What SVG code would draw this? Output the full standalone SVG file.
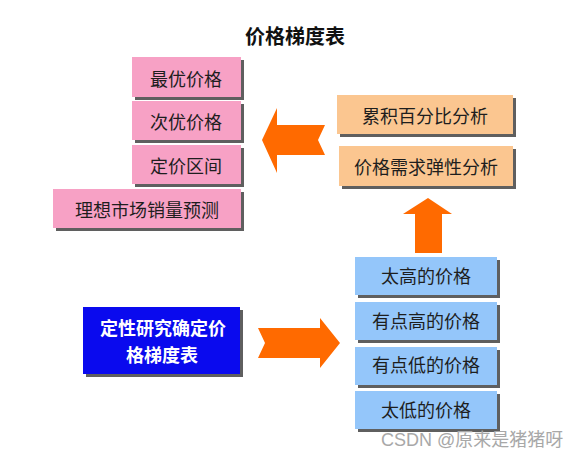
<svg xmlns="http://www.w3.org/2000/svg" width="586" height="461" viewBox="0 0 586 461">
<style>
.sh{fill:#5f5f5f}
.pk{fill:#f7a1c5}
.or{fill:#fbc690}
.bl{fill:#94c6fa}
.db{fill:#0a0aee}
.t{font-family:"Noto Sans CJK SC","Noto Sans",sans-serif;font-size:18px;fill:#1e1e1e;text-anchor:middle;dominant-baseline:central}
.tw{font-family:"Noto Sans CJK SC","Noto Sans",sans-serif;font-size:18px;font-weight:bold;fill:#ffffff;text-anchor:middle;dominant-baseline:central}
.ttl{font-family:"Noto Sans CJK SC","Noto Sans",sans-serif;font-size:20px;font-weight:bold;fill:#111;text-anchor:middle;dominant-baseline:central}
.ar{fill:#ff6a00}
.wm{font-family:"Liberation Sans","Noto Sans CJK SC",sans-serif;font-size:18px;fill:#a8a8a8}
</style>
<rect width="586" height="461" fill="#ffffff"/>
<text class="ttl" x="295" y="35">价格梯度表</text>

<g id="n-best">
<rect class="sh" x="135" y="60" width="109" height="40"/>
<rect class="pk" x="132" y="57" width="109" height="40"/>
<text class="t" x="186" y="78">最优价格</text>
</g>
<g id="n-second">
<rect class="sh" x="135" y="104" width="109" height="39"/>
<rect class="pk" x="132" y="101" width="109" height="39"/>
<text class="t" x="186" y="121">次优价格</text>
</g>
<g id="n-range">
<rect class="sh" x="135" y="148" width="109" height="39"/>
<rect class="pk" x="132" y="145" width="109" height="39"/>
<text class="t" x="186" y="165">定价区间</text>
</g>
<g id="n-forecast">
<rect class="sh" x="56" y="192" width="188" height="39"/>
<rect class="pk" x="53" y="189" width="188" height="39"/>
<text class="t" x="147" y="209">理想市场销量预测</text>
</g>

<g id="n-cum">
<rect class="sh" x="340" y="98" width="176" height="39"/>
<rect class="or" x="337" y="95" width="176" height="39"/>
<text class="t" x="425" y="115">累积百分比分析</text>
</g>
<g id="n-elastic">
<rect class="sh" x="342" y="149" width="174" height="40"/>
<rect class="or" x="339" y="146" width="174" height="40"/>
<text class="t" x="426" y="166">价格需求弹性分析</text>
</g>

<g id="n-qual">
<rect class="sh" x="86" y="310" width="157" height="67"/>
<rect class="db" x="83" y="307" width="157" height="67"/>
<text class="tw" x="163" y="327">定性研究确定价</text>
<text class="tw" x="162" y="354">格梯度表</text>
</g>

<g id="n-toohigh">
<rect class="sh" x="358" y="260" width="142" height="38"/>
<rect class="bl" x="355" y="257" width="142" height="38"/>
<text class="t" x="426" y="275">太高的价格</text>
</g>
<g id="n-high">
<rect class="sh" x="358" y="305" width="142" height="38"/>
<rect class="bl" x="355" y="302" width="142" height="38"/>
<text class="t" x="426" y="320">有点高的价格</text>
</g>
<g id="n-low">
<rect class="sh" x="358" y="350" width="142" height="38"/>
<rect class="bl" x="355" y="347" width="142" height="38"/>
<text class="t" x="426" y="364">有点低的价格</text>
</g>
<g id="n-toolow">
<rect class="sh" x="358" y="394" width="142" height="38"/>
<rect class="bl" x="355" y="391" width="142" height="38"/>
<text class="t" x="426" y="409">太低的价格</text>
</g>

<g id="connectors">
<polygon class="ar" points="262,140 277,108 277,125 325,125 318,140 325,155 277,155 277,173"/>
<polygon class="ar" points="428,198 452,214 442,214 442,253 415,253 415,214 403,214"/>
<polygon class="ar" points="258,328 320,328 320,318 340,343 320,368 320,358 258,358 265,343"/>
</g>

<text class="wm" x="381" y="446">CSDN @原来是猪猪呀</text>
</svg>
